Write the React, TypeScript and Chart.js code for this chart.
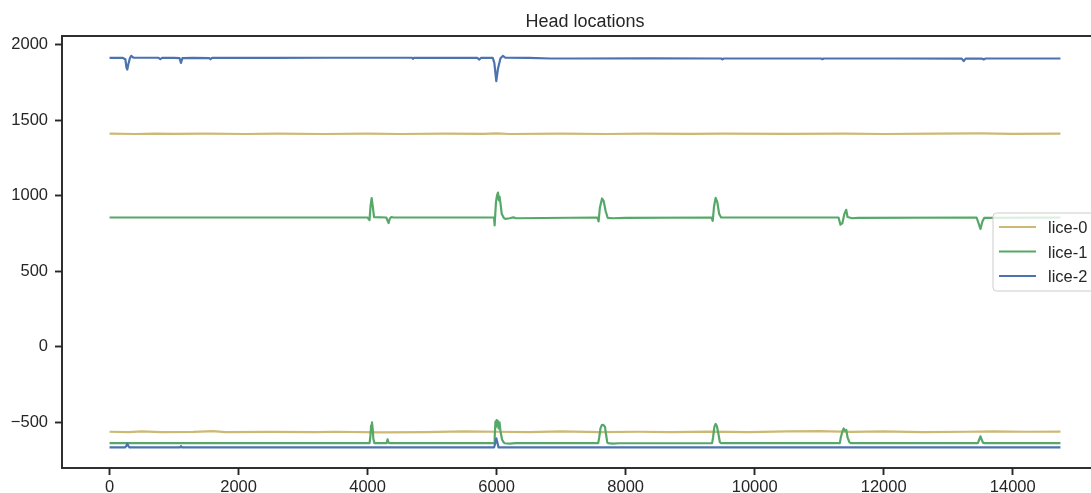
import React, { useEffect, useRef } from "react";
import { Chart, registerables } from "chart.js";

Chart.register(...registerables);

const TITLE = "Head locations";
const SERIES_LABELS = ["lice-0", "lice-1", "lice-2"];
const SERIES_COLORS = ["#CCB974", "#55A868", "#4C72B0"];
const X_TICKS = [0, 2000, 4000, 6000, 8000, 10000, 12000, 14000];
const Y_TICKS = [-500, 0, 500, 1000, 1500, 2000];
const X_RANGE = [-737, 15477];
const Y_RANGE = [-802, 2059];

// lice-0 (two traces)
const lice0A: [number, number][] = [
  [0, 1412], [400, 1410], [700, 1413], [1000, 1411], [1500, 1413], [2100, 1410], [2600, 1412],
  [3300, 1410], [4000, 1412], [4500, 1410], [5200, 1413], [5800, 1411], [6000, 1414], [6200, 1410],
  [7000, 1412], [7700, 1410], [8300, 1413], [9000, 1411], [9500, 1413], [10500, 1411], [11400, 1413],
  [12000, 1410], [12800, 1412], [13500, 1414], [14000, 1411], [14740, 1412],
];
const lice0B: [number, number][] = [
  [0, -562], [300, -565], [500, -560], [800, -565], [1300, -563], [1600, -558], [1800, -565],
  [2500, -563], [3200, -565], [3500, -562], [4200, -566], [4900, -564], [5500, -560], [6000, -562],
  [6500, -565], [7000, -560], [7600, -564], [8200, -562], [8700, -565], [9300, -561], [9900, -564],
  [10500, -560], [11000, -558], [11500, -563], [12000, -560], [12600, -564], [13300, -562],
  [13700, -559], [14200, -562], [14740, -561],
];

// lice-1 (two traces)
const lice1A: [number, number][] = [
  [0, 857], [4000, 857], [4030, 840], [4045, 930], [4063, 985], [4080, 930], [4100, 860], [4290, 857],
  [4310, 835], [4326, 820], [4345, 850], [4370, 860], [4400, 857], [5960, 857], [5969, 805],
  [5990, 960], [6005, 1000], [6021, 1022], [6035, 970], [6045, 995], [6060, 950], [6080, 880],
  [6110, 855], [6135, 848], [6200, 852], [6260, 858], [6300, 852], [7560, 857], [7581, 831],
  [7600, 920], [7634, 983], [7660, 965], [7690, 900], [7721, 855], [7800, 852], [8000, 854],
  [9330, 857], [9350, 835], [9370, 930], [9395, 987], [9420, 960], [9450, 880], [9480, 857],
  [11300, 857], [11330, 809], [11360, 820], [11390, 880], [11419, 908], [11440, 860], [11510, 852],
  [11600, 855], [13440, 857], [13470, 820], [13500, 781], [13530, 830], [13560, 855], [14740, 857],
];
const lice1B: [number, number][] = [
  [0, -637], [4030, -637], [4042, -600], [4055, -520], [4068, -500], [4078, -540], [4090, -610],
  [4105, -637], [4295, -637], [4310, -612], [4325, -634], [4340, -637], [5960, -637], [5970, -600],
  [5982, -495], [5990, -530], [6000, -485], [6008, -520], [6018, -490], [6030, -540], [6045, -500],
  [6060, -560], [6085, -615], [6110, -632], [6125, -638], [6200, -640], [6300, -637], [7575, -637],
  [7590, -600], [7610, -540], [7630, -518], [7655, -516], [7680, -530], [7700, -590], [7715, -632],
  [7730, -637], [7800, -640], [7900, -638], [9340, -637], [9355, -600], [9375, -530], [9395, -510],
  [9415, -525], [9440, -580], [9460, -630], [9480, -637], [11320, -637], [11335, -600], [11360, -560],
  [11380, -540], [11400, -555], [11420, -550], [11440, -600], [11470, -632], [11490, -637],
  [13460, -637], [13480, -615], [13500, -592], [13520, -615], [13540, -635], [13560, -637], [14740, -637],
];

// lice-2 (two traces)
const lice2A: [number, number][] = [
  [0, 1914], [200, 1915], [245, 1905], [262, 1850], [275, 1837], [290, 1870], [315, 1912], [336, 1928],
  [370, 1916], [600, 1915], [760, 1915], [786, 1905], [815, 1915], [1000, 1914], [1085, 1912],
  [1107, 1881], [1130, 1913], [1300, 1914], [1545, 1913], [1565, 1905], [1590, 1914], [2500, 1914],
  [3400, 1915], [4690, 1915], [4704, 1908], [4720, 1915], [5700, 1914], [5732, 1903], [5760, 1915],
  [5940, 1914], [5965, 1880], [5995, 1760], [6020, 1840], [6060, 1912], [6099, 1927], [6135, 1915],
  [6500, 1914], [6833, 1910], [7200, 1910], [8400, 1911], [9480, 1910], [9500, 1904], [9520, 1910],
  [11030, 1910], [11050, 1905], [11070, 1910], [12190, 1910], [13210, 1909], [13240, 1893],
  [13270, 1909], [13520, 1910], [13550, 1904], [13580, 1910], [14740, 1910],
];
const lice2B: [number, number][] = [
  [0, -666], [240, -666], [262, -655], [276, -640], [290, -655], [310, -666], [1090, -666],
  [1107, -657], [1125, -666], [5960, -666], [5978, -640], [5995, -605], [6010, -630], [6030, -666],
  [14740, -666],
];

const TRACES: { data: [number, number][]; series: number }[] = [
  { data: lice2A, series: 2 },
  { data: lice2B, series: 2 },
  { data: lice1A, series: 1 },
  { data: lice1B, series: 1 },
  { data: lice0A, series: 0 },
  { data: lice0B, series: 0 },
];

const FONT = "'Liberation Sans', Arial, sans-serif";
const INK = "#262626";

const fmt = (v: number) => (v < 0 ? "\u2212" + Math.abs(v) : String(v));

const decorPlugin = {
  id: "decor",
  afterDraw(chart: any) {
    const { ctx, chartArea } = chart;
    const { left, right, top, bottom } = chartArea;
    ctx.save();
    // spines
    ctx.strokeStyle = INK;
    ctx.lineWidth = 1.9;
    ctx.strokeRect(left, top, right - left, bottom - top);
    // title
    ctx.fillStyle = INK;
    ctx.font = `18px ${FONT}`;
    ctx.textAlign = "center";
    ctx.textBaseline = "alphabetic";
    ctx.fillText(TITLE, (left + right) / 2, 26.7);
    // legend
    const bx = 993, by = 213, bw = 104, bh = 78, r = 3.5;
    ctx.beginPath();
    ctx.moveTo(bx + r, by);
    ctx.lineTo(bx + bw - r, by);
    ctx.quadraticCurveTo(bx + bw, by, bx + bw, by + r);
    ctx.lineTo(bx + bw, by + bh - r);
    ctx.quadraticCurveTo(bx + bw, by + bh, bx + bw - r, by + bh);
    ctx.lineTo(bx + r, by + bh);
    ctx.quadraticCurveTo(bx, by + bh, bx, by + bh - r);
    ctx.lineTo(bx, by + r);
    ctx.quadraticCurveTo(bx, by, bx + r, by);
    ctx.closePath();
    ctx.fillStyle = "rgba(255,255,255,0.8)";
    ctx.fill();
    ctx.strokeStyle = "#cccccc";
    ctx.lineWidth = 1;
    ctx.stroke();
    ctx.font = `16.5px ${FONT}`;
    ctx.textAlign = "left";
    SERIES_LABELS.forEach((lab, i) => {
      const ry = 227 + i * 24.5;
      ctx.strokeStyle = SERIES_COLORS[i];
      ctx.lineWidth = 2.2;
      ctx.beginPath();
      ctx.moveTo(999, ry);
      ctx.lineTo(1036, ry);
      ctx.stroke();
      ctx.fillStyle = INK;
      ctx.fillText(lab, 1048, ry + 6.3);
    });
    ctx.restore();
  },
};

export default function App() {
  const ref = useRef<HTMLCanvasElement>(null);
  useEffect(() => {
    document.body.style.margin = "0";
    const canvas = ref.current;
    if (!canvas) return;
    const tickFont = { family: FONT, size: 16.5 };
    const chart = new Chart(canvas, {
      type: "line",
      data: {
        datasets: TRACES.map((t) => ({
          label: SERIES_LABELS[t.series],
          data: t.data.map(([x, y]) => ({ x, y })),
          borderColor: SERIES_COLORS[t.series],
          backgroundColor: SERIES_COLORS[t.series],
          borderWidth: 2.2,
          borderJoinStyle: "round" as const,
          pointRadius: 0,
          tension: 0,
          fill: false,
        })),
      },
      options: {
        animation: false,
        responsive: false,
        devicePixelRatio: 1,
        layout: { padding: { top: 36, left: 0, right: 22, bottom: 0 } },
        plugins: {
          legend: { display: false },
          title: { display: false },
          tooltip: { enabled: false },
        },
        events: [],
        scales: {
          x: {
            type: "linear",
            min: X_RANGE[0],
            max: X_RANGE[1],
            afterBuildTicks: (s: any) => {
              s.ticks = X_TICKS.map((v) => ({ value: v }));
            },
            afterFit: (s: any) => {
              s.height = 25;
            },
            grid: {
              drawOnChartArea: false,
              drawTicks: true,
              tickLength: 7,
              tickWidth: 1.9,
              tickColor: INK,
            },
            border: { display: false },
            ticks: {
              font: tickFont,
              color: INK,
              padding: 3,
              maxRotation: 0,
              autoSkip: false,
              callback: (v: any) => fmt(Number(v)),
            },
          },
          y: {
            type: "linear",
            min: Y_RANGE[0],
            max: Y_RANGE[1],
            afterBuildTicks: (s: any) => {
              s.ticks = Y_TICKS.map((v) => ({ value: v }));
            },
            afterFit: (s: any) => {
              s.width = 62;
            },
            grid: {
              drawOnChartArea: false,
              drawTicks: true,
              tickLength: 7,
              tickWidth: 1.9,
              tickColor: INK,
            },
            border: { display: false },
            ticks: {
              font: tickFont,
              color: INK,
              padding: 7,
              autoSkip: false,
              callback: (v: any) => fmt(Number(v)),
            },
          },
        },
      },
      plugins: [decorPlugin],
    });
    return () => chart.destroy();
  }, []);
  return (
    <div
      style={{
        position: "fixed",
        left: 0,
        top: 0,
        width: 1091,
        height: 493,
        overflow: "hidden",
        background: "#ffffff",
      }}
    >
      <canvas ref={ref} width={1130} height={493} style={{ display: "block" }} />
    </div>
  );
}
